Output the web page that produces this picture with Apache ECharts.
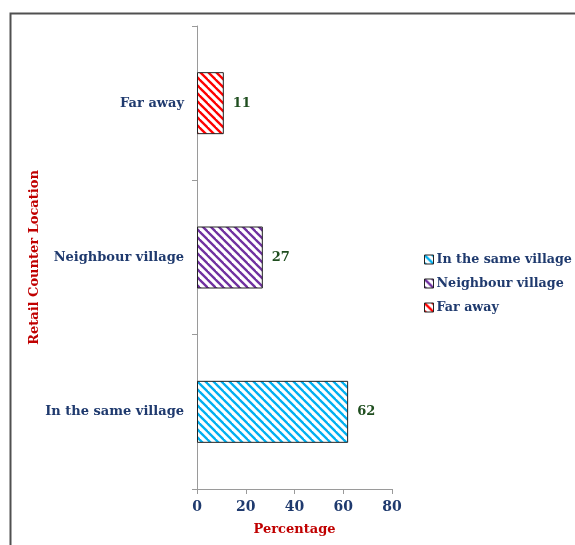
<!DOCTYPE html>
<html>
<head>
<meta charset="utf-8">
<script src="https://cdn.jsdelivr.net/npm/echarts@6/dist/echarts.min.js"></script>
<style>
  html, body { margin: 0; padding: 0; background: #ffffff; }
  #chart { width: 575px; height: 545px; }
</style>
</head>
<body>
<div id="chart"></div>
<script>
// Retail counter location survey (percentage of respondents)
const categories = ['In the same village', 'Neighbour village', 'Far away'];
const seriesNames = ['In the same village', 'Neighbour village', 'Far away'];
const values = [62, 27, 11];
const seriesColors = ['#00B0F0', '#7030A0', '#FF0000'];
const xTicks = [0, 20, 40, 60, 80];

const FONT = '"DejaVu Serif", "Liberation Serif", serif';
const NAVY = '#1F3A6E';
const RED = '#C00000';
const GREEN = '#1F4E1F';

// Diagonal "\" hatch fill as a repeating canvas tile
function hatch(color) {
  const s = 8;
  const c = document.createElement('canvas');
  c.width = s; c.height = s;
  const g = c.getContext('2d');
  g.fillStyle = '#ffffff';
  g.fillRect(0, 0, s, s);
  g.strokeStyle = color;
  g.lineWidth = 2.3;
  for (let k = -1; k <= 1; k++) {
    g.beginPath();
    g.moveTo(k * s - 1, -1);
    g.lineTo(k * s + s + 1, s + 1);
    g.stroke();
  }
  return { image: c, repeat: 'repeat' };
}

const series = seriesNames.map((name, i) => ({
  name: name,
  type: 'bar',
  stack: 'loc',
  barWidth: 62,
  data: categories.map((cat, j) => (j === i ? values[i] : '-')),
  itemStyle: {
    color: hatch(seriesColors[i]),
    borderColor: '#222222',
    borderWidth: 1
  },
  label: {
    show: true,
    position: 'right',
    distance: 9,
    color: GREEN,
    fontFamily: FONT,
    fontWeight: 'bold',
    fontSize: 13
  }
}));

const chart = echarts.init(document.getElementById('chart'), null, { renderer: 'canvas' });
chart.setOption({
  animation: false,
  backgroundColor: '#ffffff',
  graphic: [{
    type: 'rect',
    left: 8, top: 11,
    shape: { width: 700, height: 700 },
    style: { fill: 'none', stroke: '#505050', lineWidth: 2 },
    silent: true
  }],
  grid: { left: 197, right: 183, top: 26, bottom: 56 },
  legend: {
    orient: 'vertical',
    left: 419,
    top: 248,
    icon: 'rect',
    itemWidth: 9,
    itemHeight: 9,
    itemGap: 11,
    itemStyle: { borderColor: '#222222', borderWidth: 1 },
    textStyle: { color: NAVY, fontFamily: FONT, fontWeight: 'bold', fontSize: 12.7, padding: [0, 0, 0, -2] },
    data: seriesNames
  },
  xAxis: {
    type: 'value',
    min: xTicks[0],
    max: xTicks[xTicks.length - 1],
    interval: xTicks[1] - xTicks[0],
    name: 'Percentage',
    nameLocation: 'middle',
    nameGap: 34,
    nameTextStyle: { color: RED, fontFamily: FONT, fontWeight: 'bold', fontSize: 13 },
    axisLine: { show: true, lineStyle: { color: '#9a9a9a', width: 1 } },
    axisTick: { show: true, length: 5, lineStyle: { color: '#9a9a9a' } },
    splitLine: { show: false },
    axisLabel: { color: NAVY, fontFamily: FONT, fontWeight: 'bold', fontSize: 14, margin: 11 }
  },
  yAxis: {
    type: 'category',
    data: categories,
    name: 'Retail Counter Location',
    nameLocation: 'middle',
    nameGap: 153,
    nameRotate: 90,
    nameTextStyle: { color: RED, fontFamily: FONT, fontWeight: 'bold', fontSize: 13 },
    axisLine: { show: true, lineStyle: { color: '#9a9a9a', width: 1 } },
    axisTick: { show: true, length: 5, lineStyle: { color: '#9a9a9a' } },
    axisLabel: { color: NAVY, fontFamily: FONT, fontWeight: 'bold', fontSize: 13, margin: 13 }
  },
  series: series
});
</script>
</body>
</html>
